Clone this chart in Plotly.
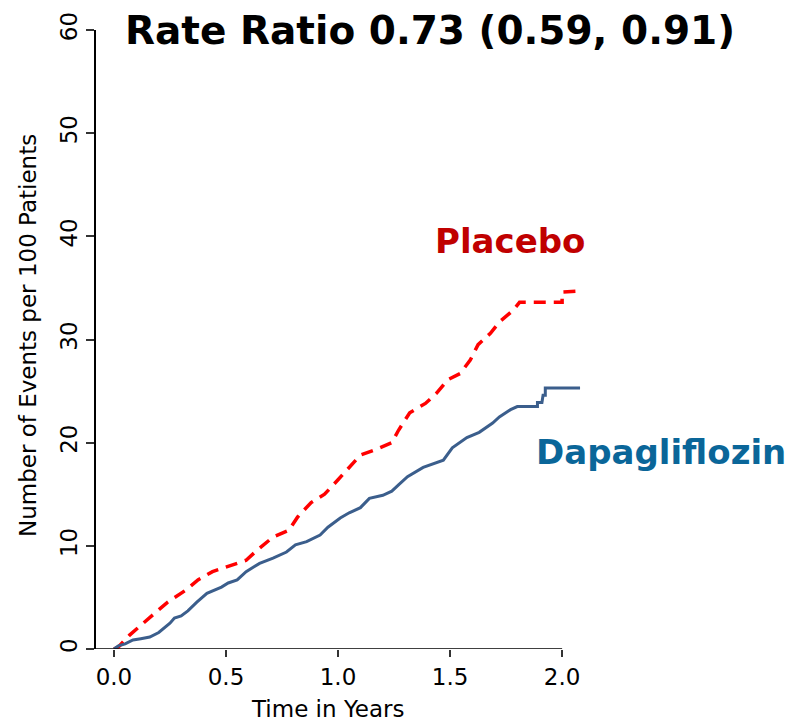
import plotly.graph_objects as go

# ---- data ----
dapa_t = [0, 0.02, 0.05, 0.085, 0.12, 0.16, 0.2, 0.25, 0.27, 0.3, 0.33, 0.37, 0.415, 0.45, 0.48,
          0.51, 0.55, 0.59, 0.62, 0.65, 0.71, 0.77, 0.81, 0.86, 0.92, 0.955, 1.01, 1.05, 1.1, 1.14,
          1.2, 1.24, 1.27, 1.31, 1.38, 1.43, 1.47, 1.51, 1.575, 1.63, 1.69, 1.72, 1.77, 1.80, 1.89,
          1.89, 1.91, 1.915, 1.925, 1.925, 2.08]
dapa_y = [0, 0.3, 0.5, 0.87, 1.0, 1.16, 1.6, 2.5, 3.0, 3.2, 3.7, 4.55, 5.4, 5.7, 6.0,
          6.4, 6.7, 7.5, 7.9, 8.3, 8.8, 9.4, 10.1, 10.4, 11.05, 11.8, 12.7, 13.2, 13.7, 14.6,
          14.9, 15.3, 15.9, 16.7, 17.6, 18.0, 18.3, 19.5, 20.5, 21.0, 21.9, 22.5, 23.2, 23.5, 23.5,
          23.9, 23.9, 24.6, 24.6, 25.3, 25.3]

plac_t = [0, 0.02, 0.07, 0.13, 0.18, 0.24, 0.32, 0.375, 0.44, 0.52, 0.59, 0.64, 0.71, 0.78, 0.82,
          0.88, 0.94, 1.0, 1.045, 1.10, 1.165, 1.24, 1.27, 1.32, 1.39, 1.44, 1.49, 1.545, 1.59,
          1.625, 1.68, 1.72, 1.78, 1.81, 2.0, 2.0, 2.08]
plac_y = [0, 0.2, 1.35, 2.5, 3.5, 4.55, 5.7, 6.7, 7.5, 8.1, 8.6, 9.6, 10.85, 11.5, 12.8,
          14.2, 15.0, 16.4, 17.5, 18.8, 19.3, 20.0, 21.2, 22.9, 23.8, 24.8, 26.1, 26.7, 28.0,
          29.5, 30.6, 31.7, 32.8, 33.6, 33.6, 34.6, 34.7]

x_ticks = [0.0, 0.5, 1.0, 1.5, 2.0]
x_ticklabels = ["0.0", "0.5", "1.0", "1.5", "2.0"]
y_ticks = [0, 10, 20, 30, 40, 50, 60]

title_text = "Rate Ratio 0.73 (0.59, 0.91)"
x_title = "Time in Years"
y_title = "Number of Events per 100 Patients"

FONT = "DejaVu Sans"

# page body has an 8px margin, so the figure is made 8px smaller and margins shifted
fig = go.Figure()
fig.add_trace(go.Scatter(x=plac_t, y=plac_y, mode="lines",
                         line=dict(color="#ff0000", width=3.5, dash="12px,8px"),
                         showlegend=False, hoverinfo="skip"))
fig.add_trace(go.Scatter(x=dapa_t, y=dapa_y, mode="lines",
                         line=dict(color="#3b5e8c", width=3),
                         showlegend=False, hoverinfo="skip"))

fig.update_layout(
    width=788, height=714,
    margin=dict(l=88, r=207, t=22, b=73, autoexpand=False),
    paper_bgcolor="white", plot_bgcolor="white",
    font=dict(family=FONT, color="black"),
    xaxis=dict(range=[-0.08, 2.12], tickvals=x_ticks, ticktext=x_ticklabels,
               ticks="outside", ticklen=7, tickwidth=1.5, tickcolor="#333",
               showline=False, showgrid=False, zeroline=False, automargin=False,
               tickfont=dict(size=23, family=FONT, color="black")),
    yaxis=dict(range=[0, 60], tickvals=y_ticks, ticks="outside", ticklen=8,
               tickwidth=1.5, tickcolor="#333", tickangle=-90,
               showline=True, linecolor="black", linewidth=1.5,
               showgrid=False, zeroline=False, automargin=False,
               tickfont=dict(size=23, family=FONT, color="black")),
    shapes=[dict(type="line", xref="x", yref="y", x0=-0.08, x1=2.0, y0=0, y1=0,
                 line=dict(color="black", width=1.5))],
)

def px(xp):
    return (xp - 96) / 493

def py(yp):
    return (649 - yp) / 619

annotations = [
    dict(text=f"<b>{title_text}</b>", x=px(430), y=py(31), xref="paper", yref="paper",
         showarrow=False, xanchor="center", yanchor="middle",
         font=dict(size=39, family=FONT, color="black")),
    dict(text="<b>Placebo</b>", x=px(510), y=py(241), xref="paper", yref="paper",
         showarrow=False, xanchor="center", yanchor="middle",
         font=dict(size=34, family=FONT, color="#c00000")),
    dict(text="<b>Dapagliflozin</b>", x=px(661), y=py(452), xref="paper", yref="paper",
         showarrow=False, xanchor="center", yanchor="middle",
         font=dict(size=34, family=FONT, color="#0a6699")),
    dict(text=x_title, x=px(328), y=py(709), xref="paper", yref="paper",
         showarrow=False, xanchor="center", yanchor="middle",
         font=dict(size=23, family=FONT, color="black")),
    dict(text=y_title, x=px(28), y=py(336), xref="paper", yref="paper",
         showarrow=False, xanchor="center", yanchor="middle", textangle=-90,
         font=dict(size=23, family=FONT, color="black")),
]
fig.update_layout(annotations=annotations)

fig.write_html("out.html")
